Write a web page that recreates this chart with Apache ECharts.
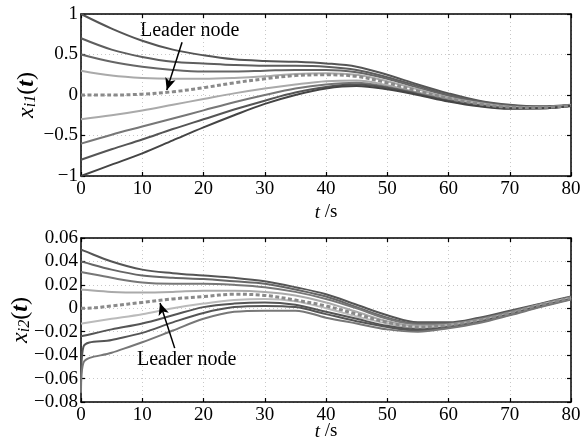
<!DOCTYPE html>
<html>
<head>
<meta charset="utf-8">
<script src="https://cdn.jsdelivr.net/npm/echarts@6/dist/echarts.min.js"></script>
<style>
  html, body { margin: 0; padding: 0; background: #fff; }
  #chart { width: 587px; height: 441px; }
</style>
</head>
<body>
<div id="chart"></div>
<script>
// time samples (s)
const times1 = [0, 5, 10, 15, 20, 25, 30, 35, 40, 45, 50, 55, 60, 65, 70, 75, 80]
const times2 = [0, 0.4, 5, 10, 15, 20, 25, 30, 35, 40, 45, 50, 55, 60, 65, 70, 75, 80]

// x_i1(t) : leader + 8 followers
const x1Leader = [0, 0, 0.01, 0.04, 0.09, 0.15, 0.20, 0.24, 0.25, 0.23, 0.15, 0.05, -0.04, -0.11, -0.15, -0.155, -0.13]
const x1F1 = [1.0, 0.82, 0.67, 0.56, 0.49, 0.44, 0.42, 0.41, 0.39, 0.35, 0.25, 0.13, 0.02, -0.07, -0.12, -0.14, -0.12]
const x1F2 = [0.7, 0.56, 0.47, 0.41, 0.39, 0.37, 0.36, 0.36, 0.35, 0.31, 0.22, 0.11, 0.0, -0.08, -0.13, -0.145, -0.125]
const x1F3 = [0.5, 0.41, 0.35, 0.31, 0.29, 0.29, 0.30, 0.31, 0.31, 0.28, 0.20, 0.09, -0.01, -0.09, -0.135, -0.15, -0.127]
const x1F4 = [0.3, 0.24, 0.21, 0.20, 0.20, 0.21, 0.23, 0.26, 0.27, 0.25, 0.17, 0.07, -0.03, -0.10, -0.145, -0.152, -0.13]
const x1F5 = [-0.3, -0.25, -0.19, -0.12, -0.05, 0.02, 0.08, 0.13, 0.17, 0.18, 0.12, 0.03, -0.05, -0.12, -0.155, -0.16, -0.132]
const x1F6 = [-0.6, -0.49, -0.39, -0.29, -0.19, -0.09, 0.0, 0.08, 0.13, 0.15, 0.10, 0.02, -0.06, -0.125, -0.16, -0.162, -0.134]
const x1F7 = [-0.8, -0.67, -0.55, -0.42, -0.30, -0.18, -0.07, 0.03, 0.10, 0.13, 0.09, 0.01, -0.07, -0.13, -0.165, -0.165, -0.135]
const x1F8 = [-1.0, -0.86, -0.72, -0.56, -0.40, -0.25, -0.11, 0.0, 0.08, 0.11, 0.07, 0.0, -0.08, -0.14, -0.17, -0.168, -0.136]

// x_i2(t) : leader + 8 followers
const x2Leader = [0, 0, 0.002, 0.005, 0.008, 0.010, 0.012, 0.011, 0.007, 0.002, -0.005, -0.012, -0.016, -0.0145, -0.010, -0.004, 0.003, 0.009]
const x2F1 = [0.050, 0.0492, 0.040, 0.033, 0.030, 0.028, 0.026, 0.023, 0.018, 0.012, 0.003, -0.006, -0.012, -0.012, -0.008, -0.002, 0.004, 0.010]
const x2F2 = [0.040, 0.0394, 0.033, 0.028, 0.026, 0.025, 0.023, 0.021, 0.016, 0.010, 0.001, -0.008, -0.013, -0.013, -0.009, -0.003, 0.0035, 0.0095]
const x2F3 = [0.031, 0.0306, 0.026, 0.022, 0.021, 0.021, 0.020, 0.018, 0.014, 0.008, 0.000, -0.009, -0.014, -0.0135, -0.0095, -0.0035, 0.003, 0.009]
const x2F4 = [0.016, 0.0158, 0.014, 0.0135, 0.014, 0.015, 0.015, 0.014, 0.011, 0.005, -0.003, -0.011, -0.015, -0.014, -0.010, -0.004, 0.003, 0.009]
const x2F5 = [-0.013, -0.0127, -0.009, -0.005, 0.000, 0.004, 0.007, 0.008, 0.006, 0.000, -0.007, -0.013, -0.017, -0.0155, -0.011, -0.0045, 0.0025, 0.0085]
const x2F6 = [-0.024, -0.0235, -0.018, -0.013, -0.006, 0.001, 0.004, 0.005, 0.003, -0.003, -0.009, -0.015, -0.018, -0.016, -0.0115, -0.005, 0.002, 0.008]
const x2F7 = [-0.066, -0.0328, -0.027, -0.021, -0.012, -0.004, 0.001, 0.002, 0.001, -0.005, -0.011, -0.016, -0.019, -0.0165, -0.012, -0.0055, 0.0015, 0.0078]
const x2F8 = [-0.072, -0.0465, -0.038, -0.029, -0.019, -0.009, -0.003, -0.002, -0.002, -0.008, -0.013, -0.018, -0.020, -0.017, -0.0125, -0.006, 0.001, 0.0075]

const xTicks = [0, 10, 20, 30, 40, 50, 60, 70, 80]
const y1Ticks = [-1, -0.5, 0, 0.5, 1]
const y2Ticks = [-0.08, -0.06, -0.04, -0.02, 0, 0.02, 0.04, 0.06]

const followerColors1 = ['#555', '#5e5e5e', '#666', '#aaa', '#aaa', '#777', '#555', '#444']
const followerColors2 = ['#555', '#666', '#777', '#aaa', '#bbb', '#555', '#555', '#777']

const FONT = 'Liberation Serif'
const chart = echarts.init(document.getElementById('chart'))

function pairs (ts, vs) {
  return ts.map((t, i) => [t, vs[i]])
}
function minus (v) {
  return String(v).replace('-', '\u2212')
}

function xAxes (gridIndex, gap) {
  const base = {
    type: 'value',
    gridIndex: gridIndex,
    min: xTicks[0],
    max: xTicks[xTicks.length - 1],
    interval: 10,
    axisLine: { onZero: false, lineStyle: { color: '#000', width: 1.5 } },
    axisTick: { inside: true, length: 4, lineStyle: { color: '#000', width: 1.2 } }
  }
  return [
    Object.assign({}, base, {
      position: 'bottom',
      name: '{t|t} /s',
      nameLocation: 'middle',
      nameGap: gap,
      nameMoveOverlap: false,
      nameTextStyle: { fontFamily: FONT, fontSize: 19, color: '#000', rich: { t: { fontFamily: FONT, fontSize: 19, fontStyle: 'italic', color: '#000' } } },
      axisLabel: { fontFamily: FONT, fontSize: 19, color: '#000', margin: 4 },
      splitLine: { show: true, lineStyle: { color: '#c8c8c8', type: [1, 3], width: 1 } }
    }),
    Object.assign({}, base, {
      position: 'top',
      axisLabel: { show: false },
      splitLine: { show: false }
    })
  ]
}

function yAxes (gridIndex, ticks, fmt, nameSub, gap) {
  const base = {
    type: 'value',
    gridIndex: gridIndex,
    min: ticks[0],
    max: ticks[ticks.length - 1],
    interval: ticks[1] - ticks[0],
    axisLine: { onZero: false, lineStyle: { color: '#000', width: 1.5 } },
    axisTick: { inside: true, length: 4, lineStyle: { color: '#000', width: 1.2 } }
  }
  return [
    Object.assign({}, base, {
      position: 'left',
      name: '{v|x}{s|' + nameSub + '}{p|(}{b|t}{p|)}',
      nameLocation: 'middle',
      nameRotate: 90,
      nameGap: gap,
      nameMoveOverlap: false,
      nameTextStyle: {
        rich: {
          v: { fontFamily: FONT, fontSize: 24, fontStyle: 'italic', color: '#000', lineHeight: 26, verticalAlign: 'bottom' },
          s: { fontFamily: FONT, fontSize: 16, fontStyle: 'italic', color: '#000', lineHeight: 18, verticalAlign: 'bottom' },
          p: { fontFamily: FONT, fontSize: 24, color: '#000', lineHeight: 26, verticalAlign: 'bottom' },
          b: { fontFamily: FONT, fontSize: 24, fontStyle: 'italic', fontWeight: 'bold', color: '#000', lineHeight: 26, verticalAlign: 'bottom' }
        }
      },
      axisLabel: { fontFamily: FONT, fontSize: 19, color: '#000', margin: 3, formatter: fmt },
      splitLine: { show: true, lineStyle: { color: '#c8c8c8', type: [1, 3], width: 1 } }
    }),
    Object.assign({}, base, {
      position: 'right',
      axisLabel: { show: false },
      splitLine: { show: false }
    })
  ]
}

function followerSeries (xi, yi, ts, list, colors) {
  return list.map((vs, k) => ({
    type: 'line',
    xAxisIndex: xi,
    yAxisIndex: yi,
    data: pairs(ts, vs),
    smooth: 0.35,
    showSymbol: false,
    silent: true,
    lineStyle: { color: colors[k], width: 2 }
  }))
}

function leaderSeries (xi, yi, ts, vs, arrowFrom, arrowTo) {
  return {
    type: 'line',
    xAxisIndex: xi,
    yAxisIndex: yi,
    data: pairs(ts, vs),
    smooth: 0.35,
    showSymbol: false,
    silent: true,
    z: 5,
    lineStyle: { color: '#8a8a8a', width: 3, type: [4, 2.5] },
    markLine: {
      silent: true,
      animation: false,
      symbol: ['none', 'arrow'],
      symbolSize: [8, 12],
      label: { show: false },
      lineStyle: { color: '#000', width: 1.5, type: 'solid' },
      data: [[{ coord: arrowFrom }, { coord: arrowTo }]]
    }
  }
}

const option = {
  animation: false,
  backgroundColor: '#fff',
  grid: [
    { left: 81, top: 14, width: 490, height: 162, outerBoundsMode: 'none' },
    { left: 81, top: 238, width: 490, height: 164, outerBoundsMode: 'none' }
  ],
  xAxis: xAxes(0, 27).concat(xAxes(1, 20)),
  yAxis: yAxes(0, y1Ticks, v => minus(v), 'i1', 42).concat(
    yAxes(1, y2Ticks, v => (Math.abs(v) < 1e-9 ? '0' : minus(v.toFixed(2))), 'i2', 48)),
  graphic: [
    { type: 'text', left: 140, top: 21, style: { text: 'Leader node', fontFamily: FONT, fontSize: 20, fill: '#000' } },
    { type: 'text', left: 137, top: 350, style: { text: 'Leader node', fontFamily: FONT, fontSize: 20, fill: '#000' } }
  ],
  series: [].concat(
    followerSeries(0, 0, times1, [x1F1, x1F2, x1F3, x1F4, x1F5, x1F6, x1F7, x1F8], followerColors1),
    [leaderSeries(0, 0, times1, x1Leader, [16.5, 0.65], [14.0, 0.06])],
    followerSeries(2, 2, times2, [x2F1, x2F2, x2F3, x2F4, x2F5, x2F6, x2F7, x2F8], followerColors2),
    [leaderSeries(2, 2, times2, x2Leader, [15.3, -0.034], [12.9, 0.0045])]
  )
}

chart.setOption(option)
window.addEventListener('resize', function () {
  chart.resize()
})
</script>
</body>
</html>
